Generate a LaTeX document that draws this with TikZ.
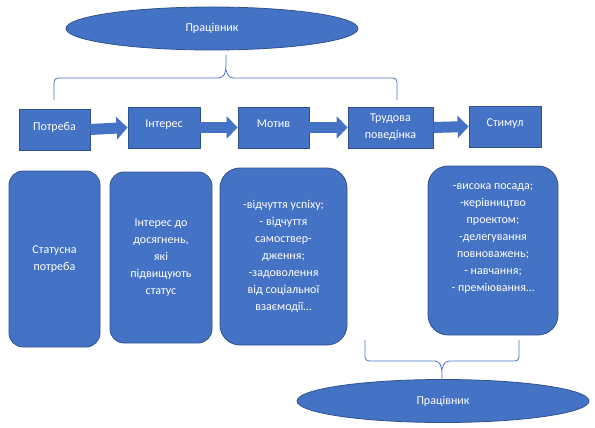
\documentclass[tikz,border=0pt]{standalone}
\usepackage{fontspec}
\setmainfont{Carlito}
\usetikzlibrary{positioning, arrows.meta, shapes.geometric}
\definecolor{boxblue}{HTML}{4472C4}
\definecolor{edgeblue}{HTML}{2F528F}
\tikzset{
every node/.style={font=\fontsize{12}{17}\selectfont, text=white, align=center, inner sep=0pt},
oval/.style={ellipse, draw=edgeblue, fill=boxblue, line width=0.8pt, minimum width=292, minimum height=43},
stage/.style={draw=edgeblue, fill=boxblue, line width=0.8pt, minimum height=41},
lifted/.style={text height=9pt, text depth=8pt},
card/.style={draw=edgeblue, fill=boxblue, line width=0.8pt, rounded corners=14pt},
flow/.style={line width=11pt, draw=boxblue, -{Triangle[length=11pt, width=22pt]}},
bracket/.style={draw=boxblue, line width=0.8pt, rounded corners=4pt},
}

\begin{document}
\begin{tikzpicture}[x=1pt, y=-1pt]
    \useasboundingbox (0,0) rectangle (595,428);

    %top oval
    \node[oval] (worker1) at (212,28.5) {Працівник};

    %stages at y=128
    \node[stage, lifted, minimum width=71] (need)     at (54.5,129.5) {Потреба};
    \node[stage, lifted, minimum width=72] (interest) at (164,127.5)  {Інтерес};
    \node[stage, lifted, minimum width=71] (motive)   at (273.5,127.5) {Мотив};
    \node[stage, minimum width=85] (conduct)  at (390.5,127.5) {Трудова\\поведінка};
    \node[stage, lifted, minimum width=72] (stimulus) at (505,126.5)  {Стимул};

    %arrows between stages
    \draw[flow] (need.east)--(interest.west);
    \draw[flow] (interest.east)--(motive.west);
    \draw[flow] (motive.east)--(conduct.west);
    \draw[flow] (conduct.east)--(stimulus.west);

    %cards at y=255
    \node[card, minimum width=91, minimum height=176] (status) at (54.5,259) {Статусна\\потреба};
    \node[card, minimum width=102, minimum height=171] (aim) at (161,257.5)
        {Інтерес до\\досягнень,\\які\\підвищують\\статус};
    \node[card, rounded corners=20pt, minimum width=127, minimum height=177] (feel) at (283.5,256.5)
        {-відчуття успіху;\\- відчуття\\самоствер-\\дження;\\-задоволення\\від соціальної\\взаємодії…};
    \node[card, rounded corners=20pt, minimum width=130, minimum height=169] (reward) at (493,250.5) { };
    \node (rewardtext) at (493,239)
        {-висока посада;\\-керівництво\\проектом;\\-делегування\\повноважень;\\- навчання;\\- преміювання…};

    %bottom oval
    \node[oval] (worker2) at (443,401) {Працівник};

    %braces
    \coordinate (tip1) at (226,55);
    \coordinate (tip2) at (442,380);
    \draw[bracket] (54,100)--(54,78)--(223,78)--(tip1 |- 0,70)--(tip1);
    \draw[bracket] (tip1 |- 0,70)--(229,78)--(397,78)--(397,100);
    \draw[bracket] (365,340)--(365,361)--(439,361)--(tip2 |- 0,369)--(tip2);
    \draw[bracket] (tip2 |- 0,369)--(445,361)--(519,361)--(519,340);

\end{tikzpicture}
\end{document}
